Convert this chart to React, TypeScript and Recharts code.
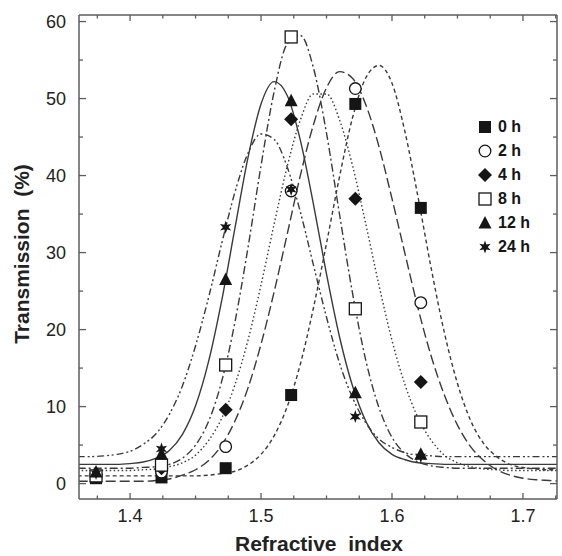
import { ComposedChart, Legend, Line, ReferenceLine, Scatter, XAxis, YAxis } from 'recharts'

const seriesLabels = ['0 h', '2 h', '4 h', '8 h', '12 h', '24 h']

// measured points
const measuredIndex = [1.374, 1.424, 1.473, 1.523, 1.572, 1.622]
const measured0h = [0.7, 0.8, 2.0, 11.5, 49.3, 35.8]
const measured2h = [1.0, 1.5, 4.8, 38.0, 51.3, 23.5]
const measured4h = [1.2, 2.0, 9.6, 47.3, 37.0, 13.2]
const measured8h = [1.0, 2.4, 15.4, 58.0, 22.7, 8.0]
const measured12h = [1.5, 3.8, 26.5, 49.7, 11.8, 3.8]
const measured24h = [1.3, 4.5, 33.3, 38.2, 8.7, 3.5]

// fitted curves, every 0.01
const fitIndex = [
  1.36, 1.37, 1.38, 1.39, 1.4, 1.41, 1.42, 1.43, 1.44, 1.45, 1.46, 1.47, 1.48,
  1.49, 1.5, 1.51, 1.52, 1.53, 1.54, 1.55, 1.56, 1.57, 1.58, 1.59, 1.6, 1.61,
  1.62, 1.63, 1.64, 1.65, 1.66, 1.67, 1.68, 1.69, 1.7, 1.71, 1.72, 1.73,
]
const fit0h = [
  1.0, 1.0, 1.0, 1.0, 1.0, 1.0, 1.0, 1.0, 1.0, 1.0, 1.1, 1.3, 1.6, 2.4, 3.8,
  6.2, 10.0, 15.5, 22.8, 31.2, 39.9, 47.6, 52.7, 54.3, 52.0, 45.6, 37.1, 27.9,
  19.6, 13.0, 8.2, 5.2, 3.5, 2.5, 2.1, 1.9, 1.8, 1.8,
]
const fit2h = [
  0.3, 0.3, 0.3, 0.3, 0.3, 0.3, 0.4, 0.6, 1.1, 1.8, 3.0, 5.0, 8.1, 12.4, 18.1,
  24.9, 32.4, 40.0, 46.6, 51.4, 53.5, 52.6, 49.2, 43.8, 37.0, 29.8, 22.7, 16.5,
  11.5, 7.6, 4.8, 3.0, 1.8, 1.1, 0.7, 0.5, 0.4, 0.3,
]
const fit4h = [
  1.7, 1.7, 1.7, 1.7, 1.7, 1.8, 1.9, 2.2, 2.7, 3.7, 5.6, 8.5, 12.8, 18.6, 25.8,
  33.7, 41.2, 47.2, 50.6, 50.6, 47.2, 41.2, 33.7, 25.8, 18.6, 12.8, 8.5, 5.6,
  3.7, 2.7, 2.2, 1.9, 1.8, 1.7, 1.7, 1.7, 1.7, 1.7,
]
const fit8h = [
  2.0, 2.0, 2.0, 2.0, 2.0, 2.1, 2.2, 2.5, 3.3, 5.0, 8.1, 13.3, 20.9, 30.6, 41.3,
  50.9, 57.1, 58.2, 54.0, 45.5, 34.9, 24.6, 16.0, 9.9, 6.0, 3.9, 2.8, 2.3, 2.1,
  2.0, 2.0, 2.0, 2.0, 2.0, 2.0, 2.0, 2.0, 2.0,
]
const fit12h = [
  2.5, 2.5, 2.5, 2.5, 2.6, 2.8, 3.3, 4.3, 6.4, 10.1, 15.9, 23.8, 33.1, 42.3,
  49.3, 52.2, 50.4, 44.6, 36.3, 27.2, 19.0, 12.6, 8.1, 5.3, 3.8, 3.1, 2.7, 2.6,
  2.5, 2.5, 2.5, 2.5, 2.5, 2.5, 2.5, 2.5, 2.5, 2.5,
]
const fit24h = [
  3.5, 3.5, 3.6, 3.8, 4.2, 5.1, 6.5, 9.0, 12.7, 17.9, 24.2, 31.2, 37.8, 42.9,
  45.4, 44.7, 41.1, 35.3, 28.4, 21.6, 15.6, 11.1, 7.9, 5.8, 4.7, 4.0, 3.7, 3.6,
  3.5, 3.5, 3.5, 3.5, 3.5, 3.5, 3.5, 3.5, 3.5, 3.5,
]

const xTicks = [
  1.375, 1.4, 1.425, 1.45, 1.475, 1.5, 1.525, 1.55, 1.575, 1.6, 1.625, 1.65,
  1.675, 1.7, 1.725,
]
const yTicks = [0, 5, 10, 15, 20, 25, 30, 35, 40, 45, 50, 55, 60]

const measured = [measured0h, measured2h, measured4h, measured8h, measured12h, measured24h]
const fits = [fit0h, fit2h, fit4h, fit8h, fit12h, fit24h]

const fitRows = fitIndex.map((x, i) => {
  const row: Record<string, number> = { x }
  fits.forEach((f, s) => {
    row['s' + s] = f[i]
  })
  return row
})

const pointSets = measured.map((vals) => vals.map((y, i) => ({ x: measuredIndex[i], y })))

const INK = '#151515'
const LINE = '#3a3a3a'
const AXIS = '#5c5c5c'
const FONT = '"Liberation Sans", Arial, Helvetica, sans-serif'

// layout
const W = 562
const H = 556
const MARGIN = { top: 14, right: 4, left: 19, bottom: 17 }
const X_AXIS_H = 40
const Y_AXIS_W = 60
const FRAME = 1
const PLOT_W = W - MARGIN.left - MARGIN.right - Y_AXIS_W - FRAME
const PLOT_H = H - MARGIN.top - MARGIN.bottom - X_AXIS_H - FRAME

const xDomain: [number, number] = [1.361, 1.726]
const yDomain: [number, number] = [-2, 60.85]
// pixels per data unit, used to size the frame ticks on the top and right edges
const X_PX = PLOT_W / (xDomain[1] - xDomain[0])
const Y_PX = PLOT_H / (yDomain[1] - yDomain[0])

const dashes = ['4 3', '10 4', '1.5 2.5', '8 3 2 3', undefined, '7 3 2 2.5 2 3']
const markerKinds = ['square', 'circle', 'diamond', 'openSquare', 'triangle', 'star']

function starPoints(cx: number, cy: number, ro: number, ri: number) {
  const pts: string[] = []
  for (let k = 0; k < 12; k++) {
    const r = k % 2 === 0 ? ro : ri
    const a = -Math.PI / 2 + (k * Math.PI) / 6
    pts.push(`${cx + r * Math.cos(a)},${cy + r * Math.sin(a)}`)
  }
  return pts.join(' ')
}

function Marker({ kind, cx, cy }: { kind: string; cx: number; cy: number }) {
  switch (kind) {
    case 'square':
      return <rect x={cx - 6} y={cy - 6} width={12} height={12} fill={INK} />
    case 'circle':
      return <circle cx={cx} cy={cy} r={5.8} fill="#fff" stroke={INK} strokeWidth={1.3} />
    case 'diamond':
      return (
        <polygon
          points={`${cx},${cy - 7} ${cx + 7},${cy} ${cx},${cy + 7} ${cx - 7},${cy}`}
          fill={INK}
        />
      )
    case 'openSquare':
      return (
        <rect x={cx - 6} y={cy - 6} width={12} height={12} fill="#fff" stroke={INK} strokeWidth={1.3} />
      )
    case 'triangle':
      return (
        <polygon
          points={`${cx},${cy - 7} ${cx + 6.5},${cy + 5.5} ${cx - 6.5},${cy + 5.5}`}
          fill={INK}
        />
      )
    default:
      return <polygon points={starPoints(cx, cy, 6.5, 2.8)} fill={INK} />
  }
}

const isMajorX = (v: number) => Math.abs(v * 10 - Math.round(v * 10)) < 1e-6
const isMajorY = (v: number) => v % 10 === 0

function BottomTick({ x, y, payload }: any) {
  const major = isMajorX(payload.value)
  return (
    <g>
      <line x1={x} x2={x} y1={y} y2={y - (major ? 6 : 3.5)} stroke={AXIS} strokeWidth={1.3} />
      {major && (
        <text x={x} y={y + 23} textAnchor="middle" fontSize={18} fill="#222" fontFamily={FONT}>
          {payload.value.toFixed(1)}
        </text>
      )}
    </g>
  )
}

function LeftTick({ x, y, payload }: any) {
  const major = isMajorY(payload.value)
  return (
    <g>
      <line x1={x} x2={x + (major ? 7 : 4)} y1={y} y2={y} stroke={AXIS} strokeWidth={1.3} />
      {major && (
        <text x={x - 13} y={y} dy="0.37em" textAnchor="end" fontSize={18} fill="#222" fontFamily={FONT}>
          {payload.value}
        </text>
      )}
    </g>
  )
}

function LegendBox() {
  return (
    <div style={{ fontFamily: FONT, fontWeight: 'bold', fontSize: 16, color: INK }}>
      {seriesLabels.map((label, i) => (
        <div key={label} style={{ display: 'flex', alignItems: 'center', height: 24 }}>
          <svg width={16} height={16} style={{ marginRight: 5 }}>
            <Marker kind={markerKinds[i]} cx={8} cy={8} />
          </svg>
          <span>{label}</span>
        </div>
      ))}
    </div>
  )
}

export default function App() {
  return (
    <div style={{ position: 'absolute', left: 0, top: 0, width: W, height: H, background: '#fff' }}>
      <ComposedChart width={W} height={H} data={fitRows} margin={MARGIN}>
        <XAxis
          dataKey="x"
          type="number"
          domain={xDomain}
          allowDataOverflow
          ticks={xTicks}
          interval={0}
          tickSize={0}
          tickMargin={0}
          tickLine={false}
          tick={<BottomTick />}
          height={X_AXIS_H}
          axisLine={{ stroke: AXIS, strokeWidth: 1.5 }}
        />
        <XAxis
          xAxisId="top"
          dataKey="x"
          orientation="top"
          type="number"
          domain={xDomain}
          allowDataOverflow
          tick={false}
          tickLine={false}
          height={FRAME}
          axisLine={{ stroke: AXIS, strokeWidth: 1.5 }}
        />
        <YAxis
          type="number"
          domain={yDomain}
          allowDataOverflow
          ticks={yTicks}
          interval={0}
          tickSize={0}
          tickMargin={0}
          tickLine={false}
          tick={<LeftTick />}
          width={Y_AXIS_W}
          axisLine={{ stroke: AXIS, strokeWidth: 1.5 }}
        />
        <YAxis
          yAxisId="right"
          orientation="right"
          type="number"
          domain={yDomain}
          allowDataOverflow
          tick={false}
          tickLine={false}
          width={FRAME}
          axisLine={{ stroke: AXIS, strokeWidth: 1.5 }}
        />
        {/* inward ticks on the top and right frame edges */}
        {xTicks.map((t) => (
          <ReferenceLine
            key={'top' + t}
            ifOverflow="visible"
            stroke={AXIS}
            strokeWidth={1.3}
            segment={[
              { x: t, y: yDomain[1] },
              { x: t, y: yDomain[1] - (isMajorX(t) ? 6 : 3.5) / Y_PX },
            ]}
          />
        ))}
        {yTicks.map((t) => (
          <ReferenceLine
            key={'right' + t}
            ifOverflow="visible"
            stroke={AXIS}
            strokeWidth={1.3}
            segment={[
              { x: xDomain[1], y: t },
              { x: xDomain[1] - (isMajorY(t) ? 7 : 4) / X_PX, y: t },
            ]}
          />
        ))}
        {fits.map((_, s) => (
          <Line
            key={'fit' + s}
            type="monotone"
            dataKey={'s' + s}
            stroke={LINE}
            strokeWidth={1.4}
            strokeDasharray={dashes[s]}
            dot={false}
            activeDot={false}
            isAnimationActive={false}
            legendType="none"
          />
        ))}
        {pointSets.map((pts, s) => (
          <Scatter
            key={'pts' + s}
            name={seriesLabels[s]}
            data={pts}
            dataKey="y"
            isAnimationActive={false}
            shape={(p: any) => <Marker kind={markerKinds[s]} cx={p.cx} cy={p.cy} />}
          />
        ))}
        <Legend
          layout="vertical"
          align="center"
          verticalAlign="middle"
          content={() => <LegendBox />}
          wrapperStyle={{ left: 477, top: 115, width: 80 }}
        />
      </ComposedChart>
      <div
        style={{
          position: 'absolute',
          left: 319,
          top: 544,
          transform: 'translate(-50%, -50%)',
          fontFamily: FONT,
          fontWeight: 'bold',
          fontSize: 21,
          color: '#222',
          whiteSpace: 'pre',
        }}
      >
        {'Refractive  index'}
      </div>
      <div
        style={{
          position: 'absolute',
          left: 22,
          top: 254,
          transform: 'translate(-50%, -50%) rotate(-90deg)',
          fontFamily: FONT,
          fontWeight: 'bold',
          fontSize: 21,
          color: '#222',
          whiteSpace: 'pre',
        }}
      >
        {'Transmission  (%)'}
      </div>
    </div>
  )
}
